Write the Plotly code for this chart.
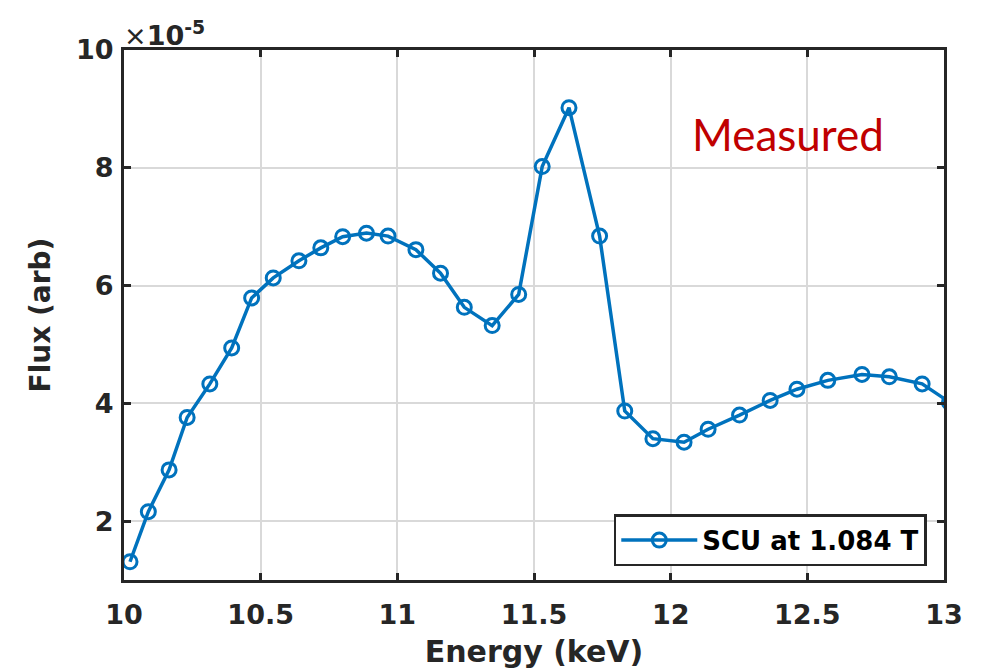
import plotly.graph_objects as go

# Data (flux in units of 1e-5, arb)
energy_kev = [10.022, 10.089, 10.165, 10.231, 10.314, 10.394, 10.467, 10.546, 10.640, 10.720,
              10.800, 10.887, 10.966, 11.068, 11.158, 11.245, 11.347, 11.444, 11.530, 11.628,
              11.740, 11.832, 11.935, 12.049, 12.137, 12.252, 12.364, 12.462, 12.575, 12.700,
              12.800, 12.920, 13.020]
flux_e5 = [1.31, 2.16, 2.87, 3.76, 4.33, 4.94, 5.79, 6.13, 6.42, 6.64,
           6.83, 6.89, 6.84, 6.61, 6.21, 5.63, 5.32, 5.85, 8.02, 9.02,
           6.84, 3.87, 3.40, 3.34, 3.56, 3.80, 4.05, 4.24, 4.39, 4.49,
           4.45, 4.33, 4.02]
series_name = "SCU at 1.084 T"
x_ticks = [10, 10.5, 11, 11.5, 12, 12.5, 13]
x_ticklabels = ["10", "10.5", "11", "11.5", "12", "12.5", "13"]
y_ticks = [2, 4, 6, 8, 10]
y_ticklabels = ["2", "4", "6", "8", "10"]

BLUE = "#0072BD"
AX = "#262626"
GRID = "#d9d9d9"
FONT = "DejaVu Sans"

fig = go.Figure()
fig.add_trace(go.Scatter(
    x=energy_kev, y=flux_e5, mode="lines+markers", name=series_name,
    line=dict(color=BLUE, width=3.5),
    marker=dict(symbol="circle-open", size=14, color=BLUE, line=dict(width=3, color=BLUE)),
    cliponaxis=True,
))

axis_common = dict(
    showline=True, linecolor=AX, linewidth=3, mirror="ticks",
    ticks="inside", ticklen=7, tickwidth=3, tickcolor=AX,
    showgrid=True, gridcolor=GRID, gridwidth=2.2,
    zeroline=False, automargin=False,
    tickfont=dict(family=FONT, size=27, color=AX, weight="bold"),
)

fig.update_xaxes(range=[10, 13], tickvals=x_ticks, ticktext=x_ticklabels,
                 ticklabelstandoff=9,
                 title=dict(text="<b>Energy (keV)</b>", font=dict(family=FONT, size=30, color=AX), standoff=12),
                 **axis_common)
fig.update_yaxes(range=[1, 10], tickvals=y_ticks, ticktext=y_ticklabels,
                 ticklabelstandoff=2,
                 title=dict(text="<b>Flux (arb)</b>", font=dict(family=FONT, size=28, color=AX), standoff=18),
                 **axis_common)

fig.add_annotation(xref="paper", yref="paper", x=0.0, y=1.0, xanchor="left", yanchor="bottom",
                   text="×<b>10<sup>-5</sup></b>", showarrow=False,
                   font=dict(family=FONT, size=27, color=AX), yshift=-3, xshift=-2)

fig.add_annotation(xref="x", yref="y", x=12.43, y=8.58, xanchor="center", yanchor="middle",
                   text="Measured", showarrow=False,
                   font=dict(family="Lato", size=44, color="#C00000"))

fig.update_layout(
    width=981, height=671,
    margin=dict(l=124, r=37, t=50, b=91, autoexpand=False),
    paper_bgcolor="white", plot_bgcolor="white",
    showlegend=True,
    legend=dict(x=0.979, y=0.026, xanchor="right", yanchor="bottom",
                bgcolor="white", bordercolor=AX, borderwidth=2.5,
                itemwidth=76, tracegroupgap=0,
                font=dict(family=FONT, size=26, color="black", weight="bold")),
)

fig.write_html("out.html")
